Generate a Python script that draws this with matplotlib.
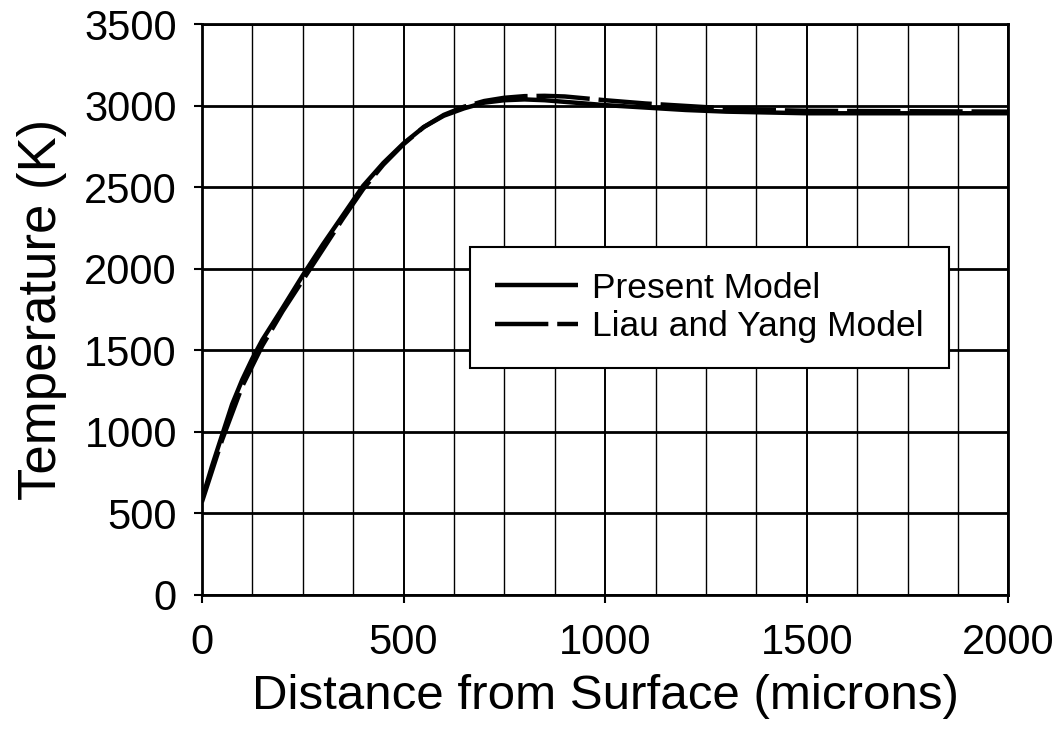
import matplotlib
matplotlib.use("Agg")
import matplotlib.pyplot as plt
import numpy as np

plt.rcParams['font.family'] = ['Liberation Sans', 'DejaVu Sans']

# Present Model (solid)
present_x = [0, 25, 50, 75, 100, 125, 150, 200, 250, 300, 350, 400, 450, 500,
             550, 600, 650, 700, 750, 800, 850, 900, 1000, 1100, 1200, 1300,
             1400, 1500, 1600, 1800, 2000]
present_t = [585, 790, 980, 1170, 1320, 1450, 1565, 1760, 1960, 2150, 2330,
             2510, 2650, 2770, 2870, 2940, 2985, 3020, 3035, 3040, 3035, 3025,
             3005, 2990, 2975, 2965, 2960, 2955, 2955, 2955, 2955]

# Liau and Yang Model (dashed)
liau_x = [0, 50, 100, 150, 200, 250, 300, 350, 400, 450, 500, 550, 600, 650,
          700, 750, 800, 850, 900, 1000, 1100, 1200, 1300, 1400, 1500, 1700, 2000]
liau_t = [570, 950, 1280, 1530, 1740, 1930, 2120, 2310, 2490, 2640, 2765, 2870,
          2945, 2995, 3030, 3050, 3060, 3062, 3058, 3035, 3015, 3000, 2985,
          2975, 2970, 2968, 2965]

x_ticks = [0, 500, 1000, 1500, 2000]
y_ticks = [0, 500, 1000, 1500, 2000, 2500, 3000, 3500]

fig = plt.figure(figsize=(10.57, 7.40), dpi=100)
ax = fig.add_axes([0.191, 0.196, 0.763, 0.771])

ax.plot(present_x, present_t, color='black', lw=3.2, solid_capstyle='butt',
        label='Present Model', zorder=3)
ax.plot(liau_x, liau_t, color='black', lw=3.2, dashes=(12, 2),
        label='Liau and Yang Model', zorder=3)

ax.set_xlim(0, 2000)
ax.set_ylim(0, 3500)
ax.set_xticks(x_ticks)
ax.set_yticks(y_ticks)
ax.set_xticks(np.arange(0, 2001, 125), minor=True)
ax.grid(True, which='major', axis='y', color='black', lw=2.0)
ax.grid(True, which='major', axis='x', color='black', lw=1.4)
ax.grid(True, which='minor', axis='x', color='black', lw=1.0)
ax.tick_params(axis='both', which='major', direction='out', length=6, width=1.5,
               labelsize=30, colors='black')
ax.tick_params(axis='x', which='major', pad=14)
ax.tick_params(axis='y', which='major', pad=12)
ax.tick_params(axis='x', which='minor', length=0)
for s in ax.spines.values():
    s.set_linewidth(2.0)
    s.set_color('black')

ax.set_xlabel('Distance from Surface (microns)', fontsize=35.5, labelpad=8)
ax.set_ylabel('Temperature (K)', fontsize=38, labelpad=12)

leg = ax.legend(loc='upper left', bbox_to_anchor=(0.3325, 0.61), fontsize=25.5,
                frameon=True, fancybox=False, edgecolor='black', framealpha=1,
                handlelength=2.35, borderpad=0.7, labelspacing=0.15,
                handletextpad=0.4, borderaxespad=0)
leg.get_frame().set_linewidth(1.5)

fig.savefig('out.png', dpi=100)
